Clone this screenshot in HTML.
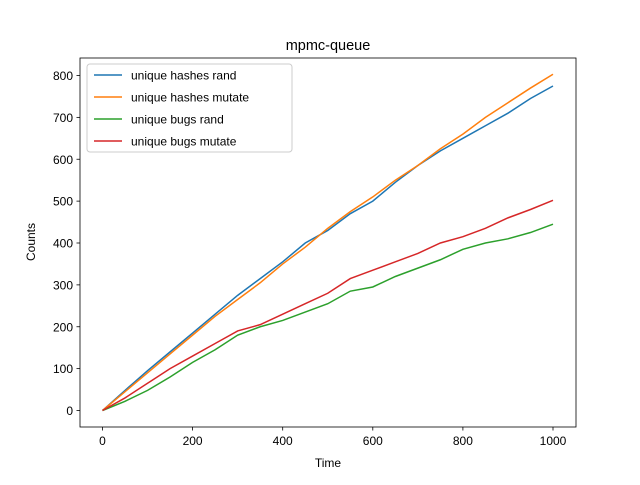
<!DOCTYPE html>
<html><head><meta charset="utf-8"><style>
body{margin:0;background:#fff}
svg text{font-family:"Liberation Sans","DejaVu Sans",sans-serif;fill:#000}
</style></head><body>
<svg id="chart" width="640" height="480">
<rect width="640" height="480" fill="#fff"/>
<text x="328" y="50" font-size="14.5" text-anchor="middle">mpmc-queue</text>
<rect x="80" y="58" width="496" height="369" fill="none" stroke="#000" stroke-width="0.8"/>
<g id="xticks"></g><g id="yticks"></g><g id="lines"></g>
<text x="328" y="467" font-size="12" text-anchor="middle">Time</text>
<text transform="translate(35,242) rotate(-90)" font-size="12" text-anchor="middle">Counts</text>
<g id="legend">
<rect x="87" y="64" width="205" height="88" rx="3" fill="#fff" fill-opacity="0.8" stroke="#ccc"/>
</g>
</svg>
<script>
const times=[0,50,100,150,200,250,300,350,400,450,500,550,600,650,700,750,800,850,900,950,1000];
const hashesRand=[0,48,95,140,185,230,275,315,355,400,430,470,500,545,585,620,650,680,710,745,775];
const hashesMutate=[0,45,90,135,180,225,265,305,350,390,435,475,510,550,585,625,660,700,735,770,803];
const bugsRand=[0,22,48,80,115,145,180,200,215,235,255,285,295,320,340,360,385,400,410,425,445];
const bugsMutate=[0,30,65,100,130,160,190,205,230,255,280,315,335,355,375,400,415,435,460,480,502];
const seriesNames=["unique hashes rand","unique hashes mutate","unique bugs rand","unique bugs mutate"];
const xTickVals=[0,200,400,600,800,1000];
const yTickVals=[0,100,200,300,400,500,600,700,800];
const colors=["#1f77b4","#ff7f0e","#2ca02c","#d62728"];
const NS="http://www.w3.org/2000/svg";
const xs=v=>102.5+v*0.4505;
const ys=v=>410.5-v*0.41875;
function mk(t,a,p){const e=document.createElementNS(NS,t);for(const k in a)e.setAttribute(k,a[k]);p.appendChild(e);return e;}
const xt=document.getElementById('xticks');
xTickVals.forEach(v=>{
 const l=mk('line',{x1:xs(v),x2:xs(v),y1:427,y2:430.5,stroke:'#000','stroke-width':0.8},xt);
 
 
 const t=mk('text',{x:xs(v),y:445,'font-size':12,'text-anchor':'middle'},xt);t.textContent=v;
 
 
});
const yt=document.getElementById('yticks');
yTickVals.forEach(v=>{
 const l=mk('line',{x1:76.5,x2:80,y1:ys(v),y2:ys(v),stroke:'#000','stroke-width':0.8},yt);
 
 
 const t=mk('text',{x:73,y:ys(v)+4.5,'font-size':12,'text-anchor':'end'},yt);t.textContent=v;
 
 
});
const lg=document.getElementById('lines');
const data=[hashesRand,hashesMutate,bugsRand,bugsMutate];
data.forEach((s,i)=>{
 const p=mk('polyline',{points:s.map((v,j)=>xs(times[j])+','+ys(v)).join(' '),fill:'none',stroke:colors[i],'stroke-width':1.5},lg);
 
 
});
const leg=document.getElementById('legend');
seriesNames.forEach((n,i)=>{
 const y=75+i*22;
 const l=mk('line',{x1:94,x2:122,y1:y,y2:y,stroke:colors[i],'stroke-width':1.5},leg);
 
 
 const t=mk('text',{x:131,y:y+4.5,'font-size':12},leg);t.textContent=n;
 
 
});
</script>
</body></html>
